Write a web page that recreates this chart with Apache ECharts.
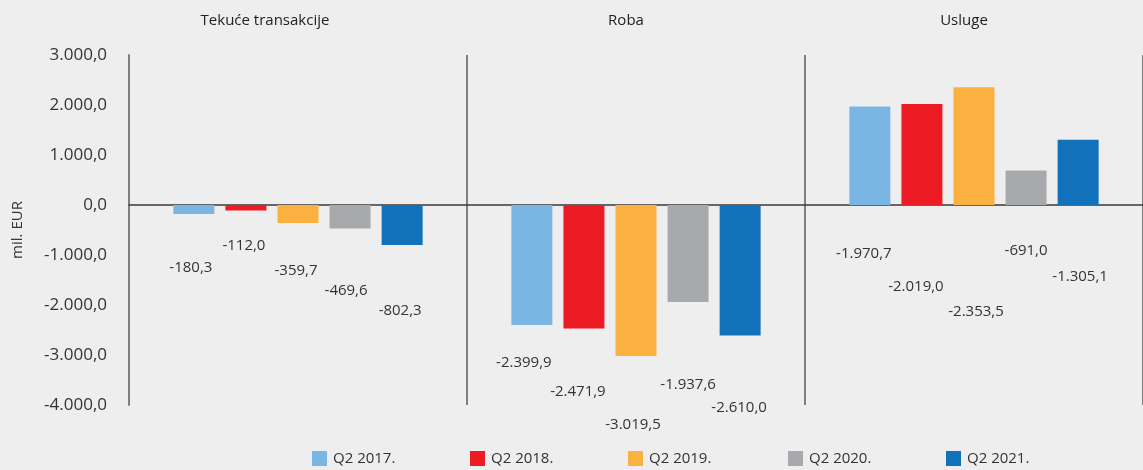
<!DOCTYPE html>
<html>
<head>
<meta charset="utf-8">
<script src="https://cdn.jsdelivr.net/npm/echarts@6/dist/echarts.min.js"></script>
<style>
html,body{margin:0;padding:0;background:#eeeeee;}
#chart{width:1143px;height:470px;}
</style>
</head>
<body>
<div id="chart"></div>
<script>
// ---- data ----
var categories = ['Tekuće transakcije', 'Roba', 'Usluge'];
var seriesNames = ['Q2 2017.', 'Q2 2018.', 'Q2 2019.', 'Q2 2020.', 'Q2 2021.'];
var q2_2017 = [-180.3, -2399.9, 1970.7];
var q2_2018 = [-112.0, -2471.9, 2019.0];
var q2_2019 = [-359.7, -3019.5, 2353.5];
var q2_2020 = [-469.6, -1937.6, 691.0];
var q2_2021 = [-802.3, -2610.0, 1305.1];
// label texts as printed in the reference
var labels_2017 = ['-180,3', '-2.399,9', '-1.970,7'];
var labels_2018 = ['-112,0', '-2.471,9', '-2.019,0'];
var labels_2019 = ['-359,7', '-3.019,5', '-2.353,5'];
var labels_2020 = ['-469,6', '-1.937,6', '-691,0'];
var labels_2021 = ['-802,3', '-2.610,0', '-1.305,1'];
var yTicksMin = -4000, yTicksMax = 3000, yTickStep = 1000;

// ---- styling (not data) ----
var colors = ['#7ab6e3', '#ed1c24', '#fbb040', '#a7a9ac', '#1172ba'];
var labelOffsets = [
  [[-3, 41], [-8, 25], [-6, 36]],
  [[-2, 23], [-6, 51], [-6, 69]],
  [[-2, 35], [-3, 56], [2, 94]],
  [[-4, 50], [0, 70], [0, 33]],
  [[-2, 53], [-1, 60], [2, 59]]
];
var legendLefts = [312, 470, 628, 788, 946];

function fmt(v) {
  var neg = v < 0;
  var a = Math.abs(v).toFixed(1).split('.');
  var ip = a[0].replace(/\B(?=(\d{3})+(?!\d))/g, '.');
  return (neg ? '-' : '') + ip + ',' + a[1];
}

var allValues = [q2_2017, q2_2018, q2_2019, q2_2020, q2_2021];
var allLabels = [labels_2017, labels_2018, labels_2019, labels_2020, labels_2021];
var FONT = '"Open Sans", sans-serif';

var series = seriesNames.map(function (name, s) {
  return {
    name: name,
    type: 'bar',
    barWidth: 41,
    barGap: '27%',
    itemStyle: { color: colors[s] },
    data: allValues[s].map(function (v, i) {
      return {
        value: v,
        label: {
          show: true,
          position: 'bottom',
          offset: labelOffsets[s][i],
          formatter: allLabels[s][i],
          color: '#333',
          fontFamily: FONT,
          fontSize: 15
        }
      };
    })
  };
});

var legends = seriesNames.map(function (n, s) {
  return {
    left: legendLefts[s],
    top: 451,
    padding: 0,
    icon: 'rect',
    itemWidth: 15,
    itemHeight: 15,
    textStyle: { color: '#333', fontFamily: FONT, fontSize: 15, padding: [0, 0, 0, 1] },
    data: [n]
  };
});

var chart = echarts.init(document.getElementById('chart'), null, { renderer: 'canvas' });
chart.setOption({
  backgroundColor: '#eeeeee',
  animation: false,
  color: colors,
  grid: { left: 129, right: -2, top: 55, bottom: 65, containLabel: false },
  legend: legends,
  xAxis: [
    {
      type: 'category',
      position: 'bottom',
      data: categories,
      axisLine: { show: true, onZero: true, lineStyle: { color: '#3a3a3a', width: 1.5 } },
      axisTick: { show: false },
      axisLabel: { show: false },
      splitLine: { show: true, lineStyle: { color: '#7f7f7f', width: 2 } }
    },
    {
      type: 'category',
      position: 'top',
      data: categories.map(function (c, i) {
        return i === 0 ? { value: c, textStyle: { padding: [0, 66, 0, 0] } } : { value: c, textStyle: { padding: [0, 20, 0, 0] } };
      }),
      axisLine: { show: false, onZero: false },
      axisTick: { show: false },
      splitLine: { show: false },
      axisLabel: { color: '#222', fontFamily: FONT, fontSize: 15, margin: 27 }
    }
  ],
  yAxis: {
    type: 'value',
    min: yTicksMin,
    max: yTicksMax,
    interval: yTickStep,
    name: 'mil. EUR',
    nameLocation: 'middle',
    nameGap: 104,
    nameTextStyle: { color: '#333', fontFamily: FONT, fontSize: 15 },
    axisLine: { show: true, lineStyle: { color: '#7f7f7f', width: 2 } },
    axisTick: { show: false },
    splitLine: { show: false },
    axisLabel: { color: '#333', fontFamily: FONT, fontSize: 17, margin: 22, formatter: fmt }
  },
  series: series
});
</script>
</body>
</html>
